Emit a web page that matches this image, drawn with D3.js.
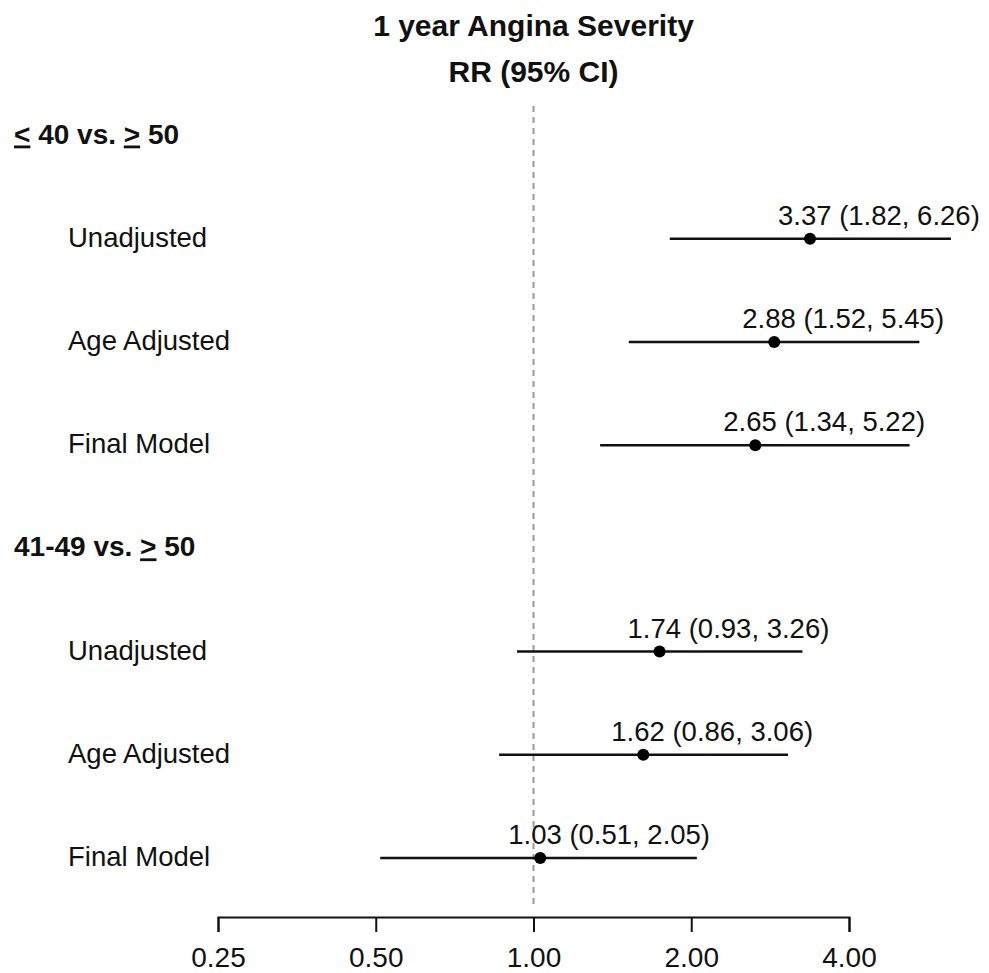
<!DOCTYPE html>
<html>
<head>
<meta charset="utf-8">
<script src="https://d3js.org/d3.v7.min.js"></script>
<style>
  body { margin: 0; background: #fff; }
  text { font-family: "Liberation Sans", Arial, sans-serif; fill: #111; }
</style>
</head>
<body>
<div id="chart"></div>
<script>
// rows: headers and models
var groups = ["< 40 vs. > 50", "41-49 vs. > 50"];
var models = ["Unadjusted", "Age Adjusted", "Final Model"];
var rr = [3.37, 2.88, 2.65, 1.74, 1.62, 1.03];
var lower = [1.82, 1.52, 1.34, 0.93, 0.86, 0.51];
var upper = [6.26, 5.45, 5.22, 3.26, 3.06, 2.05];
var ticks = [0.25, 0.5, 1, 2, 4];

var width = 989, height = 973;

var svg = d3.select("#chart")
    .append("svg")
    .attr("width", width)
    .attr("height", height);

var x = d3.scaleLog().base(2)
    .domain([0.25, 4])
    .range([218, 849]);

var y = d3.scaleLinear()
    .domain([0, 7])
    .range([135.5, 858]);

// build rows
var rows = [];
groups.forEach(function (g, gi) {
    rows.push({ type: "header", label: g, idx: gi * 4 });
    models.forEach(function (m, mi) {
        var k = gi * 3 + mi;
        rows.push({ type: "row", label: m, idx: gi * 4 + mi + 1, est: rr[k], lo: lower[k], hi: upper[k] });
    });
});
var data = rows.filter(function (d) { return d.type == "row"; });

// titles
svg.append("text")
    .attr("x", x(1)).attr("y", 36)
    .attr("text-anchor", "middle")
    .style("font-weight", "bold").style("font-size", "30px")
    .text("1 year Angina Severity");
svg.append("text")
    .attr("x", x(1)).attr("y", 82)
    .attr("text-anchor", "middle")
    .style("font-weight", "bold").style("font-size", "30px")
    .text("RR (95% CI)");

// reference line at 1
svg.append("line")
    .attr("x1", x(1)).attr("x2", x(1))
    .attr("y1", 106).attr("y2", 906)
    .attr("stroke", "#999")
    .attr("stroke-width", 2)
    .attr("stroke-dasharray", "6,5");

// group headers, "<" and ">" underlined
var hdr = svg.selectAll(".hdr")
    .data(rows.filter(function (d) { return d.type == "header"; }))
    .enter().append("text")
    .attr("class", "hdr")
    .attr("x", 14)
    .attr("y", function (d) { return y(d.idx) + 8; })
    .style("font-weight", "bold").style("font-size", "28px");
hdr.each(function (d) {
    var t = d3.select(this);
    d.label.split(/([<>])/).forEach(function (p) {
        if (p == "<" || p == ">") t.append("tspan").style("text-decoration", "underline").text(p);
        else if (p.length) t.append("tspan").text(p);
    });
});

// model labels
svg.selectAll(".lab")
    .data(data)
    .enter().append("text")
    .attr("class", "lab")
    .attr("x", 68)
    .attr("y", function (d) { return y(d.idx) + 8; })
    .style("font-size", "27.5px")
    .text(function (d) { return d.label; });

// CI lines
svg.selectAll(".ci")
    .data(data)
    .enter().append("line")
    .attr("x1", function (d) { return x(d.lo); })
    .attr("x2", function (d) { return x(d.hi); })
    .attr("y1", function (d) { return y(d.idx); })
    .attr("y2", function (d) { return y(d.idx); })
    .attr("stroke", "#111")
    .attr("stroke-width", 2.5);

// points
svg.selectAll(".pt")
    .data(data)
    .enter().append("circle")
    .attr("cx", function (d) { return x(d.est); })
    .attr("cy", function (d) { return y(d.idx); })
    .attr("r", 6)
    .attr("fill", "#000");

// estimate labels
svg.selectAll(".est")
    .data(data)
    .enter().append("text")
    .attr("x", function (d) { return x(d.est) - 32; })
    .attr("y", function (d) { return y(d.idx) - 14; })
    .style("font-size", "27.5px")
    .text(function (d) {
        return d.est.toFixed(2) + " (" + d.lo.toFixed(2) + ", " + d.hi.toFixed(2) + ")";
    });

// x axis
var axis = svg.append("g")
    .attr("transform", "translate(0,917)")
    .call(d3.axisBottom(x).tickValues(ticks).tickSizeOuter(0).tickSize(15).tickPadding(15)
        .tickFormat(function (d) { return d.toFixed(2); }));
axis.select(".domain").attr("stroke", "#111").attr("stroke-width", 2);
axis.selectAll(".tick line").attr("stroke", "#111").attr("stroke-width", 2);
axis.selectAll(".tick text")
    .style("font-size", "28px")
    .style("font-family", "'Liberation Sans', Arial, sans-serif")
    .attr("fill", "#111");
</script>
</body>
</html>
